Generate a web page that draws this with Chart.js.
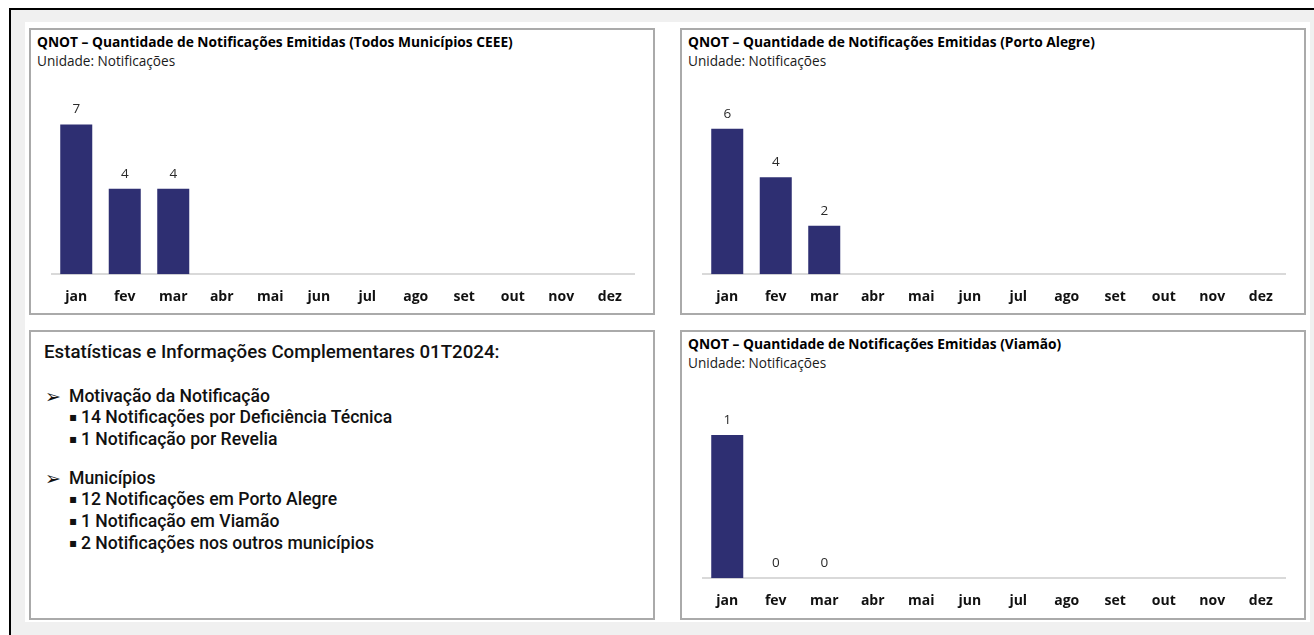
<!DOCTYPE html>
<html lang="pt-BR">
<head>
<meta charset="utf-8">
<title>QNOT - Notificações Emitidas</title>
<script src="https://cdn.jsdelivr.net/npm/chart.js@4/dist/chart.umd.min.js"></script>
<style>
    html, body { margin: 0; padding: 0; }
    body { width: 1314px; height: 635px; position: relative; background: #fff; overflow: hidden; font-family: 'Open Sans', sans-serif; }
    #moldura { position: absolute; left: 9px; top: 8px; width: 1310px; height: 640px; border-left: 2px solid #000; border-top: 2px solid #000; background: #f0f0f0; }
    #fundo { position: absolute; left: 25px; top: 22px; width: 1285px; height: 600px; background: #fff; }
    .painel { position: absolute; width: 622px; border: 2px solid #aaaaaa; background: #fff; box-sizing: content-box; }
    .titulo { position: absolute; left: 6px; top: 3px; font-weight: 700; font-size: 13.75px; line-height: 18px; color: #000; white-space: nowrap; }
    .subtitulo { position: absolute; left: 6px; top: 22px; font-size: 13.6px; line-height: 18px; color: #1a1a1a; white-space: nowrap; }
    .painel canvas { position: absolute; left: 0; top: 46px; }
    #texto { font-family: Roboto, sans-serif; color: #111; }
    #texto div { position: absolute; white-space: nowrap; }
    .cab { font-size: 18.7px; line-height: 22px; font-weight: 500; }
    .item { font-size: 17.6px; line-height: 20px; font-weight: 500; }
    .seta { font-family: 'DejaVu Sans', sans-serif; font-size: 19px; line-height: 20px; }
    .marca { font-family: 'DejaVu Sans', sans-serif; font-size: 12px; line-height: 20px; }
</style>
</head>
<body>
<div id="moldura"></div>
<div id="fundo"></div>

<div class="painel" style="left:29px; top:28px; height:283px;">
    <div class="titulo">QNOT – Quantidade de Notificações Emitidas (Todos Municípios CEEE)</div>
    <div class="subtitulo">Unidade: Notificações</div>
    <canvas id="grafica1" width="622" height="243"></canvas>
</div>

<div class="painel" style="left:680px; top:28px; height:283px;">
    <div class="titulo">QNOT – Quantidade de Notificações Emitidas (Porto Alegre)</div>
    <div class="subtitulo">Unidade: Notificações</div>
    <canvas id="grafica2" width="622" height="243"></canvas>
</div>

<div class="painel" id="texto" style="left:29px; top:330px; height:286px;">
    <div class="cab" style="left:13px; top:9px;">Estatísticas e Informações Complementares 01T2024:</div>
    <div class="seta" style="left:14px; top:54px;">➢</div>
    <div class="item" style="left:38px; top:54px;">Motivação da Notificação</div>
    <div class="marca" style="left:38px; top:75px;">▪</div>
    <div class="item" style="left:50px; top:75px;">14 Notificações por Deficiência Técnica</div>
    <div class="marca" style="left:38px; top:97px;">▪</div>
    <div class="item" style="left:50px; top:97px;">1 Notificação por Revelia</div>
    <div class="seta" style="left:14px; top:136px;">➢</div>
    <div class="item" style="left:38px; top:136px;">Municípios</div>
    <div class="marca" style="left:38px; top:157px;">▪</div>
    <div class="item" style="left:50px; top:157px;">12 Notificações em Porto Alegre</div>
    <div class="marca" style="left:38px; top:179px;">▪</div>
    <div class="item" style="left:50px; top:179px;">1 Notificação em Viamão</div>
    <div class="marca" style="left:38px; top:201px;">▪</div>
    <div class="item" style="left:50px; top:201px;">2 Notificações nos outros municípios</div>
</div>

<div class="painel" style="left:680px; top:330px; height:286px;">
    <div class="titulo">QNOT – Quantidade de Notificações Emitidas (Viamão)</div>
    <div class="subtitulo">Unidade: Notificações</div>
    <canvas id="grafica3" width="622" height="243" style="top:48px;"></canvas>
</div>

<script>
// Meses (eixo X)
var meses = ['jan', 'fev', 'mar', 'abr', 'mai', 'jun', 'jul', 'ago', 'set', 'out', 'nov', 'dez'];

// Notificações emitidas por mês
var todosMunicipios = [7, 4, 4, null, null, null, null, null, null, null, null, null];
var portoAlegre = [6, 4, 2, null, null, null, null, null, null, null, null, null];
var viamao = [1, 0, 0, null, null, null, null, null, null, null, null, null];

// Teto do eixo Y de cada gráfica
var tetos = [8.1, 7.15, 1.21];

var corBarra = '#2e2f72';

// Plugin simples para escrever o valor acima de cada barra
var rotulosValor = {
    id: 'rotulosValor',
    afterDatasetsDraw: function (chart) {
        var ctx = chart.ctx;
        ctx.save();
        ctx.font = '13.5px "Open Sans", sans-serif';
        ctx.fillStyle = '#2a2a2a';
        ctx.textAlign = 'center';
        ctx.textBaseline = 'middle';
        var meta = chart.getDatasetMeta(0);
        var valores = chart.data.datasets[0].data;
        meta.data.forEach(function (barra, i) {
            if (valores[i] === null) return;
            ctx.fillText(String(valores[i]), barra.x, barra.y - 15);
        });
        ctx.restore();
    }
};

function criarGrafica(id, valores, teto) {
    var el = document.getElementById(id);
    if (!el) {
        console.error('Elemento ' + id + ' não existe no DOM');
        return;
    }
    return new Chart(el.getContext('2d'), {
        type: 'bar',
        data: {
            labels: meses,
            datasets: [{
                data: valores,
                backgroundColor: corBarra,
                borderWidth: 0,
                barPercentage: 0.66,
                categoryPercentage: 1
            }]
        },
        options: {
            responsive: false,
            animation: false,
            layout: {
                padding: { left: 21, right: 19, top: 25, bottom: 0 }
            },
            plugins: {
                legend: { display: false },
                tooltip: { enabled: false }
            },
            scales: {
                x: {
                    grid: { display: false, drawTicks: false },
                    border: { display: true, color: '#d9d9d9', width: 2 },
                    ticks: {
                        color: '#111111',
                        padding: 14,
                        font: { family: 'Open Sans', size: 14, weight: 'bold' }
                    }
                },
                y: {
                    display: false,
                    min: 0,
                    max: teto
                }
            }
        },
        plugins: [rotulosValor]
    });
}

document.addEventListener('DOMContentLoaded', function () {
    criarGrafica('grafica1', todosMunicipios, tetos[0]);
    criarGrafica('grafica2', portoAlegre, tetos[1]);
    criarGrafica('grafica3', viamao, tetos[2]);
});
</script>
</body>
</html>
